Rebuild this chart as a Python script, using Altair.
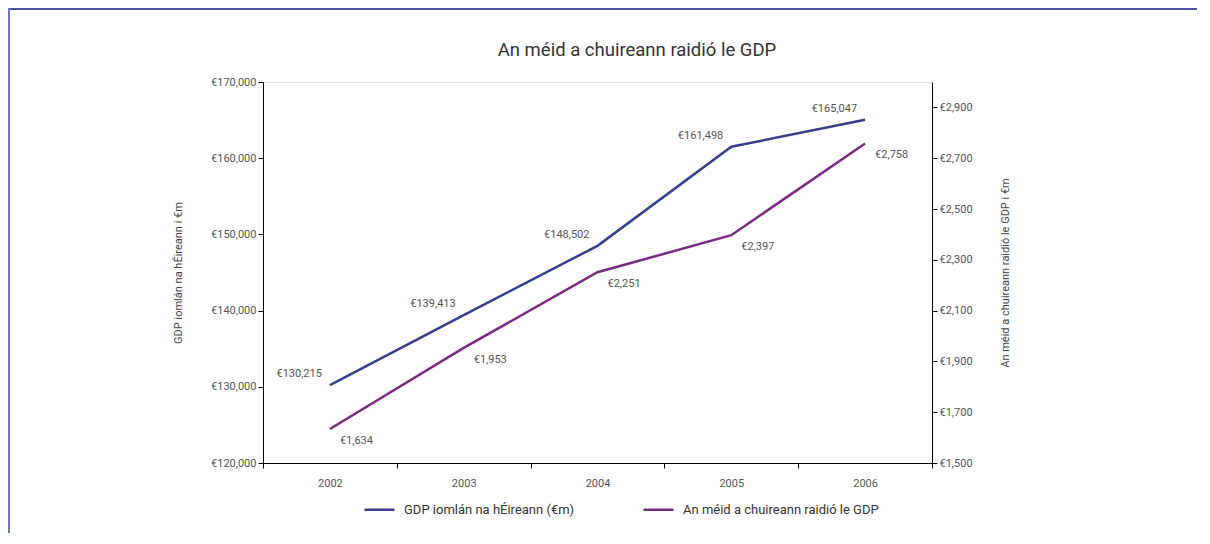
import altair as alt
import pandas as pd

years = ["2002", "2003", "2004", "2005", "2006"]
gdp_values = [130215, 139413, 148502, 161498, 165047]
radio_values = [1634, 1953, 2251, 2397, 2758]

gdp_name = "GDP iomlán na hÉireann (€m)"
radio_name = "An méid a chuireann raidió le GDP"
title_text = "An méid a chuireann raidió le GDP"
left_title = "GDP iomlán na hÉireann i  €m"
right_title = "An méid a chuireann raidió le GDP i €m"

left_ticks = [120000, 130000, 140000, 150000, 160000, 170000]
right_ticks = [1500, 1700, 1900, 2100, 2300, 2500, 2700, 2900]

BLUE = "#363f8b"
PURPLE = "#7b2a82"
FONT = "Roboto"

gdp_df = pd.DataFrame({"year": years, "value": gdp_values, "series": gdp_name})
radio_df = pd.DataFrame({"year": years, "value": radio_values, "series": radio_name})

x_enc = alt.X(
    "year:O",
    title=None,
    bandPosition=0.5,
    scale=alt.Scale(type="band", paddingInner=0, paddingOuter=0),
    axis=alt.Axis(
        tickBand="extent", labelAngle=0, labelPadding=9, tickSize=5,
        domainColor="#000", tickColor="#000", labelColor="#555",
        labelFontSize=11, labelFont=FONT,
    ),
)

color_enc = alt.Color(
    "series:N",
    scale=alt.Scale(domain=[gdp_name, radio_name], range=[BLUE, PURPLE]),
    legend=alt.Legend(
        title=None, orient="none", direction="horizontal",
        legendX=100, legendY=411, symbolType="stroke", symbolSize=900,
        symbolStrokeWidth=2.5, labelFontSize=13, labelFont=FONT,
        labelColor="#333", columnPadding=63, labelOffset=8, labelLimit=0,
    ),
)

label_expr = "'€' + format(datum.value, ',')"

y_left = alt.Y(
    "value:Q",
    scale=alt.Scale(domain=[120000, 170000], nice=False, zero=False),
    axis=alt.Axis(
        orient="left", values=left_ticks, labelExpr=label_expr, grid=False,
        title=left_title, titleFontWeight="normal", titleFontSize=11,
        titleFont=FONT, titleColor="#444", titlePadding=27,
        domainColor="#000", tickColor="#000", labelColor="#555",
        labelFontSize=11, labelFont=FONT, tickSize=5,
    ),
)

y_right = alt.Y(
    "value:Q",
    scale=alt.Scale(domain=[1500, 3000], nice=False, zero=False),
    axis=alt.Axis(
        orient="right", values=right_ticks, labelExpr=label_expr, grid=False,
        title=right_title, titleFontWeight="normal", titleFontSize=11,
        titleFont=FONT, titleColor="#444", titleAngle=270, titlePadding=38,
        domainColor="#000", tickColor="#000", labelColor="#555",
        labelFontSize=11, labelFont=FONT, tickSize=5,
    ),
)

gdp_base = alt.Chart(gdp_df).encode(x=x_enc)
gdp_line = gdp_base.mark_line(strokeWidth=2.5).encode(y=y_left, color=color_enc)
gdp_text = gdp_base.transform_calculate(
    lab="'€' + format(datum.value, ',')"
).mark_text(
    align="right", baseline="middle", dx=-8, dy=-11, font=FONT,
    fontSize=11, color="#555"
).encode(y=alt.Y("value:Q"), text="lab:N")
gdp_layer = alt.layer(gdp_line, gdp_text)

radio_base = alt.Chart(radio_df).encode(x=x_enc)
radio_line = radio_base.mark_line(strokeWidth=2.5).encode(y=y_right, color=color_enc)
radio_text = radio_base.transform_calculate(
    lab="'€' + format(datum.value, ',')"
).mark_text(
    align="left", baseline="middle", dx=10, dy=12, font=FONT,
    fontSize=11, color="#555"
).encode(y=alt.Y("value:Q"), text="lab:N")
radio_layer = alt.layer(radio_line, radio_text)

dummy = pd.DataFrame({"t": [title_text]})
top_border = alt.Chart(dummy).mark_rule(color="#4a55a0", strokeWidth=2, clip=False).encode(
    x=alt.value(-256), x2=alt.value(950), y=alt.value(-73)
)
left_border = alt.Chart(dummy).mark_rule(color="#6d76b3", strokeWidth=2, clip=False).encode(
    x=alt.value(-254), y=alt.value(-74), y2=alt.value(470)
)
title_mark = alt.Chart(dummy).mark_text(
    font=FONT, fontSize=18.5, color="#333", align="center", baseline="middle", clip=False
).encode(x=alt.value(374), y=alt.value(-32), text="t:N")

chart = alt.layer(gdp_layer, radio_layer, top_border, left_border, title_mark).resolve_scale(
    y="independent"
).properties(
    width=669,
    height=381,
    padding={"left": 255, "top": 74, "right": 265, "bottom": 70},
    autosize=alt.AutoSizeParams(type="none"),
).configure_view(stroke=None).configure(background="white")

chart.save("out.html", embed_options={"renderer": "svg", "actions": False})
